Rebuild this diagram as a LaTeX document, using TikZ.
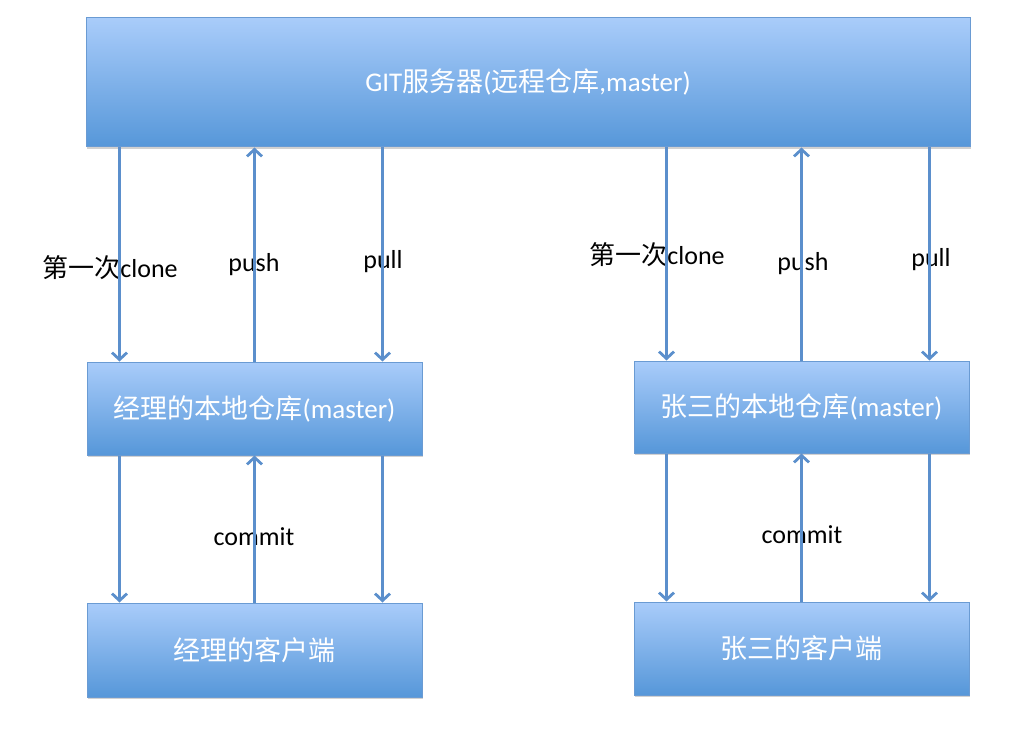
\documentclass[tikz,border=0pt]{standalone}
\usepackage{fontspec}
\setmainfont{Carlito}
\newfontfamily\cjk{Noto Sans CJK SC}
\usetikzlibrary{arrows.meta,shadows}
\definecolor{box-top}{HTML}{A9CCFA}
\definecolor{box-bottom}{HTML}{5697D9}
\definecolor{box-border}{HTML}{6A9BD3}
\definecolor{arrow-blue}{HTML}{5B8FCC}
\tikzset{
    blue-box/.style = {draw=box-border, line width=1pt, top color=box-top, bottom color=box-bottom, rectangle, inner sep=0pt, text=white, font=\fontsize{27}{31}\selectfont, drop shadow={shadow xshift=1pt, shadow yshift=-2pt, opacity=0.3, fill=black!60}},
    flow-arrow/.style = {draw=arrow-blue, line width=2.8pt, -{Straight Barb[length=7pt, width=15pt]}},
    flow-label/.style = {text=black, font=\fontsize{26}{30}\selectfont, inner sep=0pt},
}

\begin{document}
\begin{tikzpicture}[x=1pt, y=-1pt]
\useasboundingbox (0,0) rectangle (1034,733);
% boxes
\node [blue-box, minimum width=884pt, minimum height=129pt] (server) at (528,82.5) {GIT{\cjk 服务器}({\cjk 远程仓库},master)};
\node [blue-box, minimum width=335pt, minimum height=93pt] (mgr-local) at (254.5,408.5) {{\cjk 经理的本地仓库}(master)};
\node [blue-box, minimum width=335pt, minimum height=94pt] (mgr-client) at (254.5,650) {\cjk 经理的客户端};
\node [blue-box, minimum width=335pt, minimum height=92pt] (zs-local) at (801.5,407) {{\cjk 张三的本地仓库}(master)};
\node [blue-box, minimum width=335pt, minimum height=93pt] (zs-client) at (801.5,648.5) {\cjk 张三的客户端};
% labels
\node [flow-label] (mgr-clone-label) at (110,268) {{\cjk 第一次}clone};
\node [flow-label] (mgr-push-label) at (254,265) {push};
\node [flow-label] (mgr-pull-label) at (383,262) {pull};
\node [flow-label] (mgr-commit-label) at (254,537) {commit};
\node [flow-label] (zs-clone-label) at (657,255) {{\cjk 第一次}clone};
\node [flow-label] (zs-push-label) at (803,264) {push};
\node [flow-label] (zs-pull-label) at (931,260) {pull};
\node [flow-label] (zs-commit-label) at (802,535) {commit};
% arrows
\foreach \who in {mgr, zs} {
    \path (\who-local.north) ++(-135,0) coordinate (\who-a)
          (\who-local.north) ++(0,0) coordinate (\who-b)
          (\who-local.north) ++(128,0) coordinate (\who-c);
    \draw [flow-arrow] (\who-a |- server.south) -- (\who-a);
    \draw [flow-arrow] (\who-b) -- (\who-b |- server.south);
    \draw [flow-arrow] (\who-c |- server.south) -- (\who-c);
    \draw [flow-arrow] (\who-a |- \who-local.south) -- (\who-a |- \who-client.north);
    \draw [flow-arrow] (\who-b |- \who-client.north) -- (\who-b |- \who-local.south);
    \draw [flow-arrow] (\who-c |- \who-local.south) -- (\who-c |- \who-client.north);
}
\end{tikzpicture}
\end{document}
